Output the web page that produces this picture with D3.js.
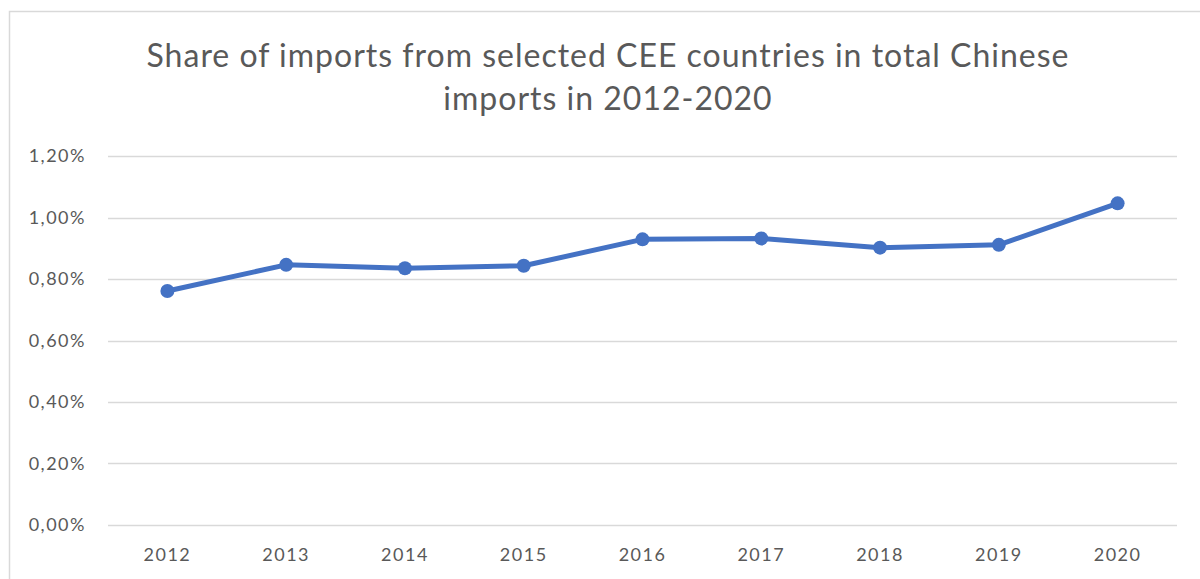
<!DOCTYPE html>
<html><head><meta charset="utf-8">
<script src="https://cdn.jsdelivr.net/npm/d3@7"></script>
<style>body{margin:0;background:#fff;}svg{display:block;font-family:Lato,"Open Sans",sans-serif;}</style>
</head><body>
<svg id="c" width="1200" height="579"></svg>
<script>
const years = ["2012","2013","2014","2015","2016","2017","2018","2019","2020"];
const shares = [0.761, 0.846, 0.835, 0.843, 0.929, 0.932, 0.902, 0.911, 1.046];
const yTicks = [0, 0.2, 0.4, 0.6, 0.8, 1.0, 1.2];
const titleLines = ["Share of imports from selected CEE countries in total Chinese", "imports in 2012-2020"];

const svg = d3.select("#c");
svg.append("rect").attr("x",9.5).attr("y",11.5).attr("width",1200).attr("height",600)
  .attr("fill","#fff").attr("stroke","#d9d9d9").attr("stroke-width",1.5);

const m = {left:108, right:1177, top:156, bottom:525};
const x = d3.scaleBand().domain(years).range([m.left, m.right]);
const y = d3.scaleLinear().domain([0,1.2]).range([m.bottom, m.top]);

svg.append("g").selectAll("line").data(yTicks).join("line")
  .attr("x1",m.left).attr("x2",m.right)
  .attr("y1",d=>Math.round(y(d))+0.5).attr("y2",d=>Math.round(y(d))+0.5)
  .attr("stroke","#d9d9d9").attr("stroke-width",1.5);

const fmt = d => d.toFixed(2).replace(".", ",") + "%";
const yAxis = svg.append("g").attr("transform",`translate(${m.left},0)`)
  .call(d3.axisLeft(y).tickValues(yTicks).tickFormat(fmt).tickSize(0).tickPadding(22));
yAxis.select(".domain").remove();
yAxis.selectAll("text").attr("fill","#595959").style("font-size","18px").style("letter-spacing","1.5px")
  .style("font-family","Lato,'Open Sans',sans-serif");

const xAxis = svg.append("g").attr("transform",`translate(0,${m.bottom})`)
  .call(d3.axisBottom(x).tickSize(0).tickPadding(23));
xAxis.select(".domain").remove();
xAxis.selectAll("text").attr("fill","#595959").style("font-size","18px").style("letter-spacing","1.5px")
  .style("font-family","Lato,'Open Sans',sans-serif");

const pts = years.map((yr,i)=>({yr, v:shares[i]}));
svg.append("path").datum(pts)
  .attr("d", d3.line().x(d=>x(d.yr)+x.bandwidth()/2).y(d=>y(d.v)))
  .attr("fill","none").attr("stroke","#4472c4").attr("stroke-width",5).attr("stroke-linejoin","round");
svg.append("g").selectAll("circle").data(pts).join("circle")
  .attr("cx",d=>x(d.yr)+x.bandwidth()/2).attr("cy",d=>y(d.v)).attr("r",7)
  .attr("fill","#4472c4");

svg.append("g").selectAll("text").data(titleLines).join("text")
  .attr("x",608).attr("y",(d,i)=>67+i*43).attr("text-anchor","middle")
  .attr("fill","#595959").style("font-size","32px").style("letter-spacing","1px").text(d=>d);
</script>
</body></html>
